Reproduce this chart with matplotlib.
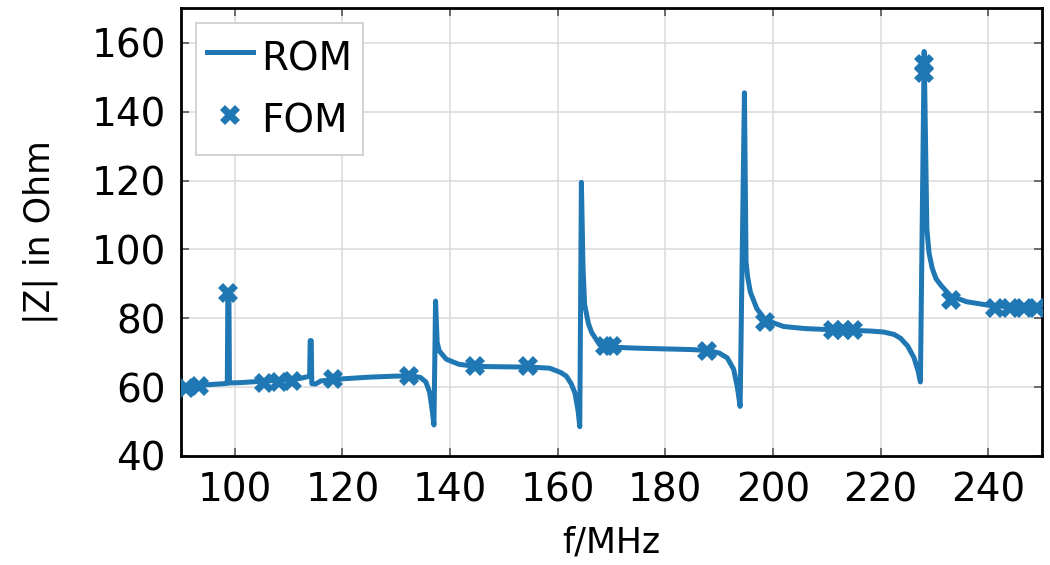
import matplotlib
matplotlib.use("Agg")
import matplotlib.pyplot as plt

# ROM impedance curve, |Z| over frequency
f_rom = [90.0, 92.0, 95.0, 98.0, 98.6, 98.7, 98.9, 99.0, 101.0, 104.0, 108.0,
         112.0, 113.5, 113.9, 114.0, 114.2, 114.3, 115.0, 116.0, 120.0, 125.0,
         130.0, 133.0, 134.5, 135.5, 136.2, 136.7, 137.0, 137.3, 137.6, 138.0,
         139.3, 141.7, 145.0, 150.0, 155.0, 158.5, 160.5, 161.6, 162.5, 163.2,
         163.8, 164.1, 164.4, 164.7, 165.0, 165.7, 166.3, 167.8, 170.0, 175.0,
         180.0, 185.0, 188.0, 190.0, 191.5, 192.7, 193.4, 193.9, 194.7, 195.0,
         195.3, 195.8, 197.0, 198.6, 202.0, 206.0, 212.0, 218.0, 220.6, 222.5,
         223.7, 225.0, 226.2, 227.0, 227.4, 228.1, 228.6, 229.0, 229.6, 230.3,
         231.2, 233.0, 236.0, 240.0, 245.0, 250.0]
z_rom = [60.0, 60.3, 60.7, 61.0, 61.1, 87.5, 87.5, 61.2, 61.3, 61.6, 62.0,
         62.5, 63.0, 63.3, 73.5, 73.5, 61.0, 60.9, 61.8, 62.4, 62.9,
         63.2, 63.2, 62.8, 61.5, 58.5, 53.0, 49.0, 85.0, 73.0, 70.5,
         68.1, 66.6, 66.0, 65.9, 65.8, 65.5, 64.3, 63.2, 61.0, 58.3,
         53.0, 48.5, 119.5, 95.0, 84.0, 78.5, 75.9, 72.3, 71.6, 71.3,
         71.1, 70.9, 70.6, 69.9, 68.5, 65.2, 59.8, 54.4, 145.5, 96.4,
         92.0, 87.6, 82.8, 79.5, 77.6, 77.0, 76.6, 76.3, 76.0, 75.3,
         74.2, 72.0, 68.6, 64.5, 61.5, 157.5, 106.0, 99.0, 94.5, 91.5,
         89.6, 86.5, 84.8, 83.8, 83.2, 82.8]

# FOM reference points
f_fom = [91.0, 93.3, 98.8, 105.5, 108.3, 110.6, 118.3, 132.4, 144.6, 154.5,
         168.7, 170.1, 187.8, 198.6, 211.1, 213.0, 214.8, 228.1, 228.1, 233.0,
         241.3, 244.1, 246.7, 249.0]
z_fom = [59.8, 60.3, 87.2, 61.3, 61.6, 61.8, 62.3, 63.3, 66.0, 66.1,
         71.8, 71.9, 70.5, 78.8, 76.5, 76.5, 76.5, 151.3, 153.8, 85.3,
         83.0, 83.0, 83.0, 82.9]

blue = "#1f77b4"
plt.rcParams["font.family"] = "DejaVu Sans"
plt.rcParams["font.size"] = 28

fig = plt.figure(figsize=(10.5, 5.65), dpi=100)
ax = fig.add_axes([0.1724, 0.193, 0.82, 0.792])

ax.plot(f_rom, z_rom, color=blue, lw=3.6, label="ROM", zorder=3)
ax.plot(f_fom, z_fom, ls="none", marker="X", ms=15, mew=0, color=blue,
        label="FOM", zorder=4)

ax.set_xlim(90, 250)
ax.set_ylim(40, 170)
ax.set_xticks(range(100, 241, 20))
ax.set_yticks(range(40, 161, 20))
ax.grid(True, color="#dddddd", lw=1.2)
ax.set_axisbelow(True)
ax.tick_params(direction="in", length=6, width=1.2, color="#555555",
               top=True, right=True, labelsize=28, pad=11)
for s in ax.spines.values():
    s.set_linewidth(2)
    s.set_color("black")

ax.set_xlabel("f/MHz", fontsize=25, labelpad=12)
ax.set_ylabel("|Z| in Ohm", fontsize=25, labelpad=24)

leg = ax.legend(loc="upper left", fancybox=False, framealpha=1,
                edgecolor="#cccccc", fontsize=28, handlelength=1.2,
                handleheight=1.5, handletextpad=0.2, labelspacing=0.38,
                borderaxespad=0.38, borderpad=0.28)
leg.get_frame().set_linewidth(1.2)

fig.savefig("out.png", dpi=100)
